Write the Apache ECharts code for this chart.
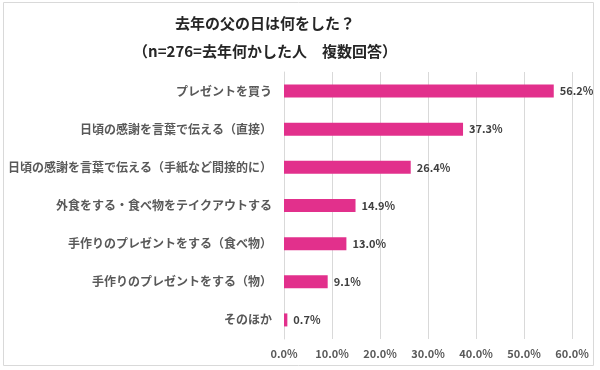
<!DOCTYPE html>
<html><head><meta charset="utf-8">
<script src="https://cdn.jsdelivr.net/npm/echarts@6/dist/echarts.min.js"></script>
<style>html,body{margin:0;padding:0;background:#fff}#c{width:600px;height:370px}</style>
</head><body><div id="c"></div>
<script>
const categories = [
  'プレゼントを買う',
  '日頃の感謝を言葉で伝える（直接）',
  '日頃の感謝を言葉で伝える（手紙など間接的に）',
  '外食をする・食べ物をテイクアウトする',
  '手作りのプレゼントをする（食べ物）',
  '手作りのプレゼントをする（物）',
  'そのほか'
];
const values = [56.2, 37.3, 26.4, 14.9, 13.0, 9.1, 0.7];
const titleLines = ['去年の父の日は何をした？', '（n=276=去年何かした人　複数回答）'];

const font = '"Noto Sans CJK JP", "Noto Sans", sans-serif';
const chart = echarts.init(document.getElementById('c'), null, {renderer: 'canvas'});
chart.setOption({
  animation: false,
  textStyle: {fontFamily: font},
  title: [
    {text: titleLines[0], left: 260, top: 11, textAlign: 'center',
     textStyle: {fontFamily: font, fontSize: 15, fontWeight: 'bold', color: '#262626'}},
    {text: titleLines[1], left: 260, top: 39, textAlign: 'center',
     textStyle: {fontFamily: font, fontSize: 15, fontWeight: 'bold', color: '#262626'}}
  ],
  graphic: [{type: 'rect', shape: {x: 3.5, y: 2.5, width: 590, height: 363},
    style: {fill: 'none', stroke: '#d9d9d9', lineWidth: 1}, silent: true}],
  grid: {left: 284, right: 28, top: 72, bottom: 31, containLabel: false},
  xAxis: {
    type: 'value', min: 0, max: 60, interval: 10,
    axisLine: {show: false}, axisTick: {show: false},
    splitLine: {show: true, lineStyle: {color: '#d9d9d9', width: 1}},
    axisLabel: {formatter: v => v.toFixed(1) + '%', color: '#595959', fontSize: 11,
      fontWeight: 'bold', margin: 9, fontFamily: font}
  },
  yAxis: {
    type: 'category', data: categories, inverse: true,
    axisLine: {show: true, lineStyle: {color: '#d9d9d9'}}, axisTick: {show: false},
    axisLabel: {color: '#595959', fontSize: 12, margin: 12, fontFamily: font, fontWeight: 'bold'}
  },
  series: [{
    type: 'bar', data: values, barWidth: 13,
    itemStyle: {color: '#E2308C'},
    label: {show: true, position: 'right', distance: 6, formatter: p => p.value.toFixed(1) + '%',
      color: '#404040', fontSize: 11, fontWeight: 'bold', fontFamily: font}
  }]
});
</script></body></html>
